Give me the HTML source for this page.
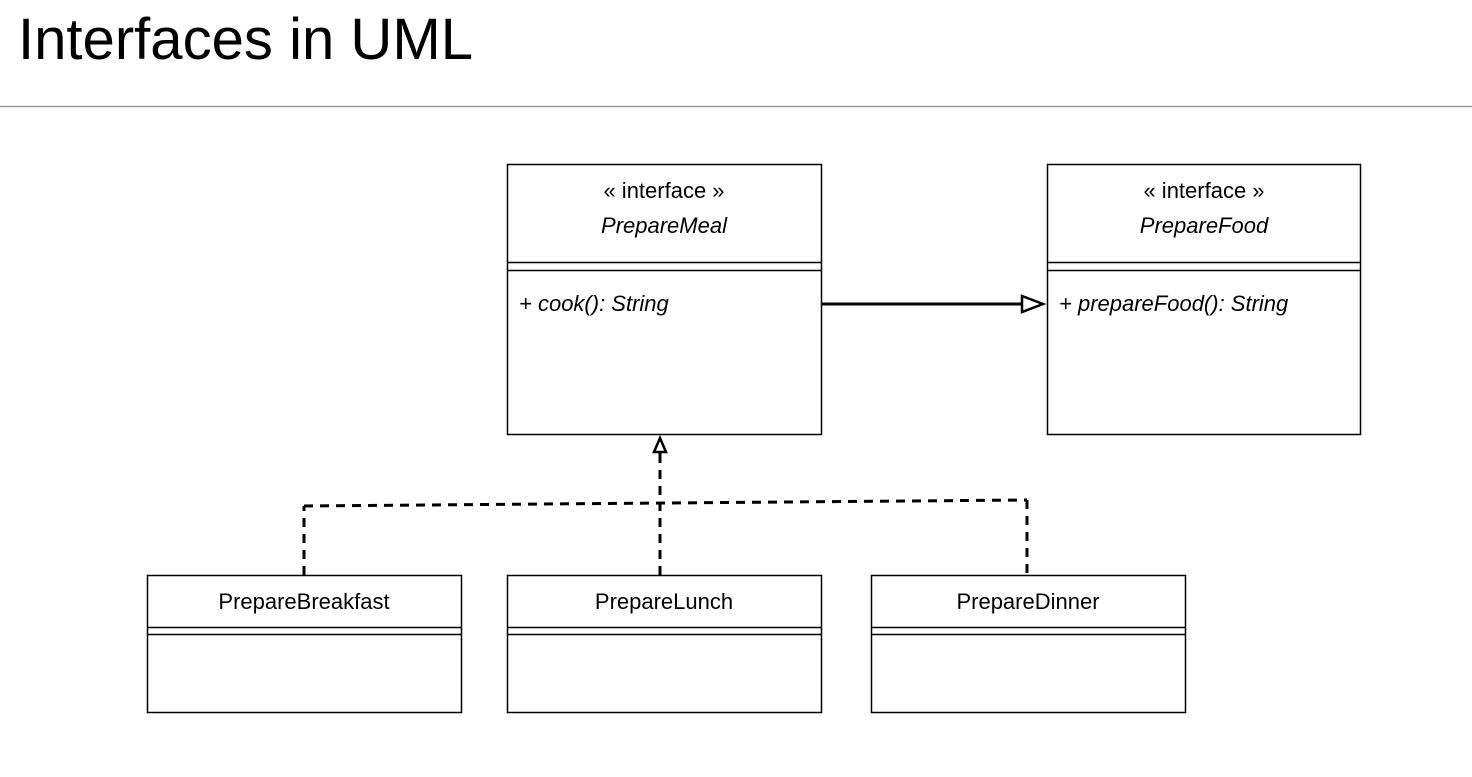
<!DOCTYPE html>
<html><head><meta charset="utf-8"><style>
html,body{margin:0;padding:0;background:#fff;}
</style></head><body>
<svg width="1472" height="772" viewBox="0 0 1472 772" xmlns="http://www.w3.org/2000/svg" font-family="Liberation Sans, Arial, sans-serif">
<rect width="1472" height="772" fill="#fff"/>
<text x="18" y="59" font-size="58" font-weight="300" textLength="455" lengthAdjust="spacingAndGlyphs" fill="#000">Interfaces in UML</text>
<line x1="0" y1="106.5" x2="1472" y2="106.5" stroke="#999" stroke-width="1.5"/>
<g fill="#fff" stroke="#000" stroke-width="1.5">
<rect x="507.5" y="164.5" width="314" height="270"/>
<line x1="507.5" y1="262.5" x2="821.5" y2="262.5"/>
<line x1="507.5" y1="270.5" x2="821.5" y2="270.5"/>
<rect x="1047.5" y="164.5" width="313" height="270"/>
<line x1="1047.5" y1="262.5" x2="1360.5" y2="262.5"/>
<line x1="1047.5" y1="270.5" x2="1360.5" y2="270.5"/>
<rect x="147.5" y="575.5" width="314" height="137"/>
<line x1="147.5" y1="627.5" x2="461.5" y2="627.5"/>
<line x1="147.5" y1="634.5" x2="461.5" y2="634.5"/>
<rect x="507.5" y="575.5" width="314" height="137"/>
<line x1="507.5" y1="627.5" x2="821.5" y2="627.5"/>
<line x1="507.5" y1="634.5" x2="821.5" y2="634.5"/>
<rect x="871.5" y="575.5" width="314" height="137"/>
<line x1="871.5" y1="627.5" x2="1185.5" y2="627.5"/>
<line x1="871.5" y1="634.5" x2="1185.5" y2="634.5"/>
</g>
<g font-size="22" fill="#000" text-anchor="middle">
<text x="664" y="198">« interface »</text>
<text x="664" y="233" font-style="italic">PrepareMeal</text>
<text x="1204" y="198">« interface »</text>
<text x="1204" y="233" font-style="italic">PrepareFood</text>
<text x="304" y="609">PrepareBreakfast</text>
<text x="664" y="609">PrepareLunch</text>
<text x="1028" y="609">PrepareDinner</text>
</g>
<g font-size="22" fill="#000" font-style="italic">
<text x="519" y="311">+ cook(): String</text>
<text x="1059" y="311">+ prepareFood(): String</text>
</g>
<line x1="821" y1="304" x2="1022" y2="304" stroke="#000" stroke-width="3"/>
<polygon points="1022,296 1043,304 1022,312" fill="#fff" stroke="#000" stroke-width="2.5"/>
<g stroke="#000" stroke-width="3" fill="none" stroke-dasharray="9,7">
<line x1="660" y1="575" x2="660" y2="455"/>
<line x1="304" y1="575" x2="304" y2="506"/>
<line x1="304" y1="506" x2="1027" y2="500"/>
<line x1="1027" y1="500" x2="1027" y2="575"/>
</g>
<polygon points="660,438 654,452 666,452" fill="#fff" stroke="#000" stroke-width="2.5"/>
<line x1="660" y1="452" x2="660" y2="460" stroke="#000" stroke-width="3"/>
</svg>
</body></html>
